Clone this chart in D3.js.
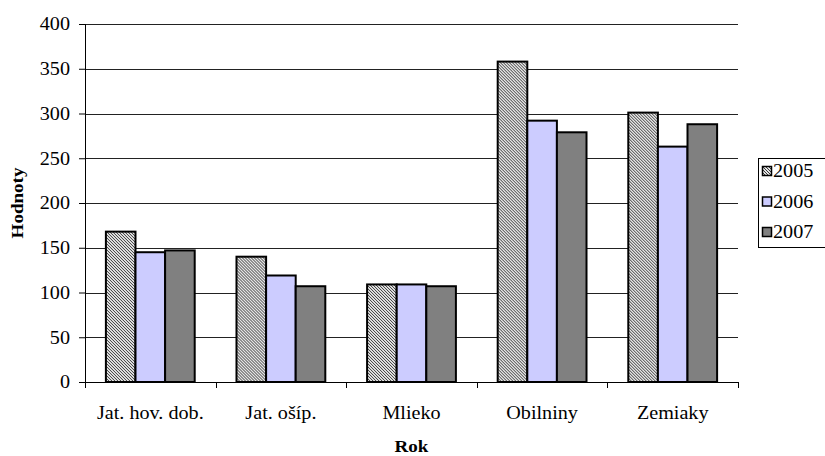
<!DOCTYPE html>
<meta charset="utf-8">
<style>
body { margin: 0; background: #fff; }
svg text { font-family: "Liberation Serif", "Times New Roman", serif; fill: #000; }
.grid line { stroke: #222; stroke-width: 1px; }
.bar { stroke: #000; stroke-width: 2px; }
</style>
<svg width="825" height="456"></svg>
<script src="https://d3js.org/d3.v7.min.js"></script>
<script>

var categories = ["Jat. hov. dob.", "Jat. ošíp.", "Mlieko", "Obilniny", "Zemiaky"];
var years = ["2005", "2006", "2007"];
var v2005 = [168, 140, 109, 358, 301];
var v2006 = [145, 119, 109, 292, 263];
var v2007 = [147, 107, 107, 279, 288];
var yTicks = [0, 50, 100, 150, 200, 250, 300, 350, 400];

var series = [v2005, v2006, v2007];
var fills = ["url(#hatch)", "#ccccff", "#808080"];
var stretch = 1.12; // the original text is a bit wider than its height

var svg = d3.select("svg"),
    margin = {top: 24, right: 87, bottom: 74, left: 85},
    width = +svg.attr("width") - margin.left - margin.right,
    height = +svg.attr("height") - margin.top - margin.bottom;

// hatch pattern for 2005
var pat = svg.append("defs").append("pattern")
    .attr("id", "hatch")
    .attr("patternUnits", "userSpaceOnUse")
    .attr("width", 3).attr("height", 3);
pat.append("rect").attr("width", 3).attr("height", 3).attr("fill", "#e4e4e4");
pat.append("path")
    .attr("d", "M-1,-1 L4,4 M-1,2 L1,4 M2,-1 L4,1")
    .attr("stroke", "#3a3a3a").attr("stroke-width", 1);

var g = svg.append("g").attr("transform", "translate(" + margin.left + "," + margin.top + ")");

var x0 = d3.scaleBand().domain(categories).range([0, width]).paddingInner(0.32).paddingOuter(0.16);
var x1 = d3.scaleBand().domain(years).range([0, x0.bandwidth()]);
var y = d3.scaleLinear().domain([0, 400]).range([height, 0]);

// gridlines
g.append("g").attr("class", "grid")
  .selectAll("line").data(yTicks.slice(1)).enter().append("line")
    .attr("x1", 0).attr("x2", width)
    .attr("y1", function(d) { return Math.round(y(d)) + 0.5; })
    .attr("y2", function(d) { return Math.round(y(d)) + 0.5; });

// bars
var groups = g.selectAll(".grp").data(categories).enter().append("g")
    .attr("transform", function(d) { return "translate(" + x0(d) + ",0)"; });

groups.selectAll("rect")
  .data(function(d, i) { return years.map(function(yr, j) { return {yr: yr, v: series[j][i], j: j}; }); })
  .enter().append("rect")
    .attr("class", "bar")
    .attr("x", function(d) { return x1(d.yr); })
    .attr("width", x1.bandwidth())
    .attr("y", function(d) { return y(d.v); })
    .attr("height", function(d) { return height - y(d.v); })
    .attr("fill", function(d) { return fills[d.j]; });

// y axis
var yAxis = g.append("g")
    .call(d3.axisLeft(y).tickValues(yTicks).tickSize(6).tickPadding(9));
yAxis.attr("font-family", null).attr("font-size", null);
yAxis.selectAll(".tick text")
    .style("font-size", "18px")
    .attr("x", null)
    .attr("transform", "translate(-15,0) scale(" + stretch + ",1)");
yAxis.select(".domain").attr("stroke", "#000").attr("d", "M0.5,0V" + height);

// x axis with ticks at category boundaries
var xAxis = g.append("g")
    .attr("transform", "translate(0," + height + ")");
xAxis.append("line").attr("x1", 0).attr("x2", width).attr("y1", 0.5).attr("y2", 0.5).attr("stroke", "#000");
xAxis.selectAll(".tk").data(d3.range(categories.length + 1)).enter().append("line")
    .attr("x1", function(i) { return Math.round(i * width / categories.length) + 0.5; })
    .attr("x2", function(i) { return Math.round(i * width / categories.length) + 0.5; })
    .attr("y1", 0).attr("y2", 6).attr("stroke", "#000");
xAxis.selectAll(".lbl").data(categories).enter().append("text")
    .attr("transform", function(d) {
      return "translate(" + (x0(d) + x0.bandwidth() / 2) + ",37) scale(" + stretch + ",1)";
    })
    .attr("text-anchor", "middle")
    .style("font-size", "18px")
    .text(function(d) { return d; });

// axis titles
svg.append("text")
    .attr("transform", "translate(23," + (margin.top + height / 2) + ") rotate(-90) scale(" + stretch + ",1)")
    .attr("text-anchor", "middle")
    .style("font-size", "17px").style("font-weight", "bold")
    .text("Hodnoty");

svg.append("text")
    .attr("transform", "translate(" + (margin.left + width / 2) + ",452) scale(" + stretch + ",1)")
    .attr("text-anchor", "middle")
    .style("font-size", "17px").style("font-weight", "bold")
    .text("Rok");

// legend
var lg = svg.append("g").attr("transform", "translate(758,158)");
lg.append("rect").attr("x", 0.5).attr("y", 0.5).attr("width", 80).attr("height", 89)
    .attr("fill", "#fff").attr("stroke", "#000");
var li = lg.selectAll(".li").data(years).enter().append("g")
    .attr("transform", function(d, i) { return "translate(0," + (13 + i * 30.5) + ")"; });
li.append("rect").attr("x", 4.5).attr("y", -4.5).attr("width", 9).attr("height", 9)
    .attr("fill", function(d, i) { return fills[i]; })
    .attr("stroke", "#000").attr("stroke-width", 1.5);
li.append("text")
    .attr("transform", "translate(15,6) scale(" + stretch + ",1)")
    .style("font-size", "18px")
    .text(function(d) { return d; });

</script>
